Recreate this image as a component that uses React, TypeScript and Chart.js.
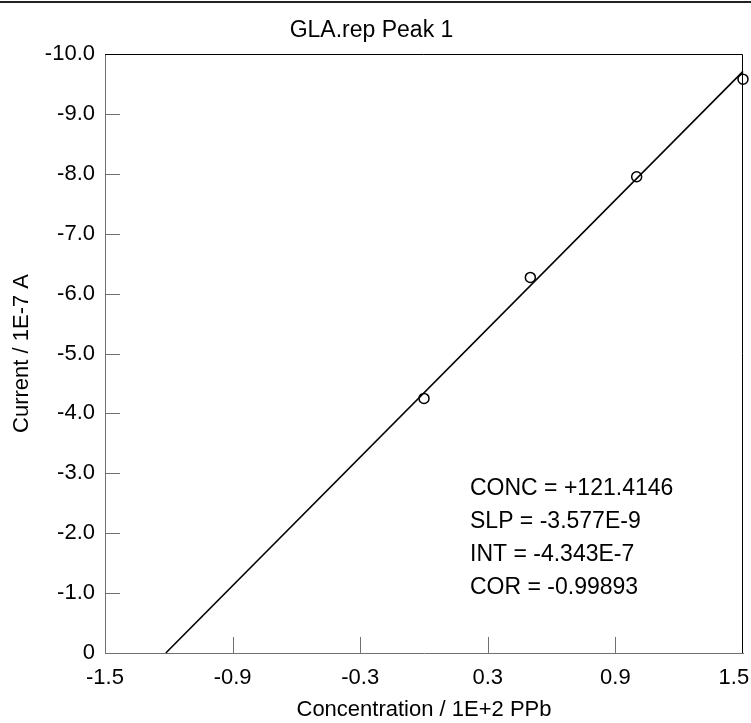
import React, { useEffect, useRef } from 'react';
import { Chart, registerables } from 'chart.js';

Chart.register(...registerables);

const titleText = 'GLA.rep Peak 1';
const xAxisTitle = 'Concentration / 1E+2 PPb';
const yAxisTitle = 'Current / 1E-7 A';
const xTicks = [-1.5, -0.9, -0.3, 0.3, 0.9, 1.5];
const yTicks = [0, -1, -2, -3, -4, -5, -6, -7, -8, -9, -10];
const standardX = [0, 0.5, 1.0, 1.5];
const standardY = [-4.25, -6.27, -7.95, -9.58];
const fitX = [-1.2141, 1.5];
const fitY = [0, -9.709];
const statsLines = ['CONC = +121.4146', 'SLP = -3.577E-9', 'INT = -4.343E-7', 'COR = -0.99893'];

const FONT = '"Liberation Sans", Arial, sans-serif';
const AXIS_GRAY = '#707070';

const framePlugin = {
  id: 'frame',
  beforeDraw(chart: any) {
    const { ctx } = chart;
    ctx.save();
    ctx.fillStyle = '#ffffff';
    ctx.fillRect(0, 0, chart.width, chart.height);
    ctx.restore();
  },
  afterDraw(chart: any) {
    const { ctx, chartArea, scales } = chart;
    const { left, right, top, bottom } = chartArea;
    ctx.save();
    // page rule at top
    ctx.fillStyle = '#222';
    ctx.fillRect(0, 1, chart.width, 2);
    // top and right border
    ctx.strokeStyle = '#000';
    ctx.lineWidth = 1;
    ctx.beginPath();
    ctx.moveTo(left, top + 0.5);
    ctx.lineTo(right - 0.5, top + 0.5);
    ctx.lineTo(right - 0.5, bottom);
    ctx.stroke();
    // inward ticks
    ctx.strokeStyle = AXIS_GRAY;
    ctx.beginPath();
    xTicks.slice(1, -1).forEach((v) => {
      const px = Math.round(scales.x.getPixelForValue(v)) + 0.5;
      ctx.moveTo(px, bottom);
      ctx.lineTo(px, bottom - 16);
    });
    yTicks.slice(1, -1).forEach((v) => {
      const py = Math.round(scales.y.getPixelForValue(v)) + 0.5;
      ctx.moveTo(left, py);
      ctx.lineTo(left + 15, py);
    });
    ctx.stroke();
    // statistics block
    ctx.fillStyle = '#000';
    ctx.font = `23px ${FONT}`;
    ctx.textAlign = 'left';
    ctx.textBaseline = 'middle';
    statsLines.forEach((s, i) => ctx.fillText(s, 470, 489 + i * 33));
    ctx.restore();
  },
};

export default function App() {
  const ref = useRef<HTMLCanvasElement | null>(null);

  useEffect(() => {
    document.body.style.margin = '0';
    const canvas = ref.current;
    if (!canvas) return;
    const lastX = xTicks[xTicks.length - 1];
    const chart = new Chart(canvas, {
      type: 'scatter',
      data: {
        datasets: [
          {
            label: 'Fit',
            data: fitX.map((x, i) => ({ x, y: fitY[i] })),
            showLine: true,
            borderColor: '#000',
            borderWidth: 1.6,
            pointRadius: 0,
            clip: false as any,
          },
          {
            label: 'Standards',
            data: standardX.map((x, i) => ({ x, y: standardY[i] })),
            pointStyle: 'circle',
            pointRadius: 5,
            borderColor: '#000',
            backgroundColor: 'rgba(255,255,255,0)',
            borderWidth: 1.5,
            clip: false as any,
          },
        ],
      },
      options: {
        animation: false,
        responsive: false,
        layout: { padding: { top: 0, right: 8, left: 0, bottom: 0 } },
        plugins: {
          legend: { display: false },
          tooltip: { enabled: false },
          title: {
            display: true,
            text: titleText,
            color: '#000',
            font: { family: FONT, size: 23, weight: 'normal', lineHeight: 1.2 },
            padding: { top: 17, bottom: 9.4 },
          },
        },
        scales: {
          x: {
            type: 'linear',
            min: -1.5,
            max: 1.5,
            afterBuildTicks: (s: any) => {
              s.ticks = xTicks.map((v) => ({ value: v }));
            },
            afterFit: (s: any) => {
              s.height = 70;
              s.paddingLeft = 0;
              s.paddingRight = 0;
            },
            grid: { display: false, drawTicks: false },
            border: { display: true, color: AXIS_GRAY, width: 1 },
            ticks: {
              color: '#000',
              font: { family: FONT, size: 22 },
              padding: 12,
              maxRotation: 0,
              autoSkip: false,
              callback: (v: any) => {
                const n = Number(v);
                const label = n.toFixed(1);
                // keep the last label inside the page, as in the reference
                return n === lastX ? label + '\u00A0\u00A0\u00A0' : label;
              },
            },
            title: {
              display: true,
              text: xAxisTitle,
              color: '#000',
              font: { family: FONT, size: 22, lineHeight: 1.2 },
              padding: { top: 0, bottom: 0 },
            },
          },
          y: {
            type: 'linear',
            min: -10,
            max: 0,
            reverse: true,
            afterBuildTicks: (s: any) => {
              s.ticks = yTicks.map((v) => ({ value: v }));
            },
            afterFit: (s: any) => {
              s.width = 105;
              s.paddingTop = 0;
              s.paddingBottom = 0;
            },
            grid: { display: false, drawTicks: false },
            border: { display: true, color: AXIS_GRAY, width: 1 },
            ticks: {
              color: '#000',
              font: { family: FONT, size: 22 },
              padding: 10,
              autoSkip: false,
              callback: (v: any) => (Number(v) === 0 ? '0' : Number(v).toFixed(1)),
            },
            title: {
              display: true,
              text: yAxisTitle,
              color: '#000',
              font: { family: FONT, size: 22, lineHeight: 1.2 },
              padding: { top: 9, bottom: 0 },
            },
          },
        },
      },
      plugins: [framePlugin],
    } as any);
    return () => chart.destroy();
  }, []);

  return <canvas ref={ref} width={751} height={723} style={{ display: 'block' }} />;
}
